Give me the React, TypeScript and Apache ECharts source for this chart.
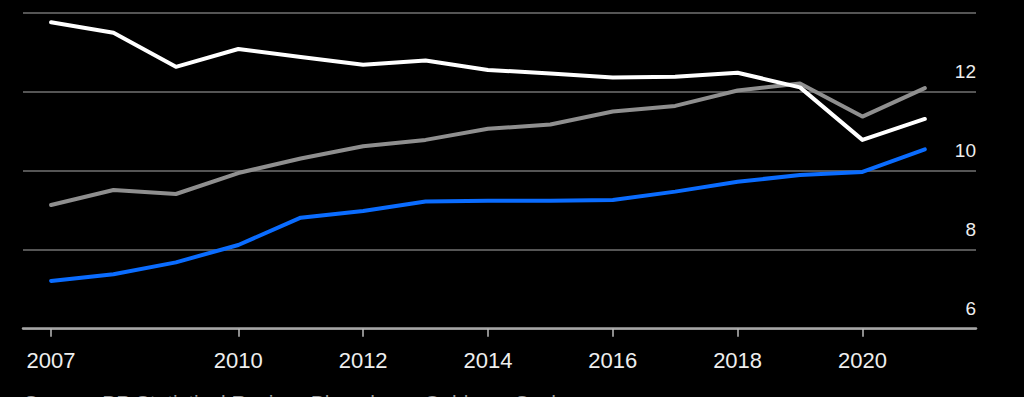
import React, { useEffect, useRef } from "react";
import * as echarts from "echarts";

const years = [2007, 2008, 2009, 2010, 2011, 2012, 2013, 2014, 2015, 2016, 2017, 2018, 2019, 2020, 2021];
const whiteSeries = [13.76, 13.49, 12.63, 13.08, 12.88, 12.68, 12.79, 12.55, 12.46, 12.36, 12.38, 12.48, 12.11, 10.78, 11.31];
const graySeries = [9.13, 9.51, 9.41, 9.94, 10.31, 10.62, 10.78, 11.06, 11.17, 11.50, 11.64, 12.03, 12.21, 11.37, 12.09];
const blueSeries = [7.21, 7.38, 7.68, 8.12, 8.81, 8.98, 9.22, 9.24, 9.24, 9.26, 9.47, 9.72, 9.89, 9.97, 10.54];
const xTickYears = [2007, 2010, 2012, 2014, 2016, 2018, 2020];
const yTickValues = [6, 8, 10, 12];
const sourceText = "Source: BP Statistical Review, Bloomberg, Goldman Sachs";

const FONT = "'Liberation Sans', Arial, sans-serif";

export default function App() {
  const ref = useRef<HTMLDivElement>(null);
  useEffect(() => {
    document.body.style.margin = "0";
    document.body.style.background = "#000";
    const chart = echarts.init(ref.current!, null, { renderer: "svg" });
    const mk = (data: number[], color: string) => ({
      type: "line",
      data: years.map((y, i) => [y, data[i]]),
      showSymbol: false,
      symbol: "none",
      lineStyle: { color, width: 4, join: "round", cap: "round" },
      z: 3,
    });
    chart.setOption({
      animation: false,
      backgroundColor: "#000",
      grid: { left: 23, right: 48, top: 12.7, bottom: 68.3, containLabel: false },
      xAxis: {
        type: "value",
        min: 2006.55,
        max: 2021.82,
        axisLine: { show: true, lineStyle: { color: "#a6a6a6", width: 2.5 } },
        axisTick: { show: true, customValues: xTickYears, length: 8, lineStyle: { color: "#bbbbbb", width: 1.5 } },
        axisLabel: {
          customValues: xTickYears,
          color: "#eeeeee",
          fontSize: 22,
          fontFamily: FONT,
          margin: 21,
          formatter: (v: number) => String(v),
        },
        splitLine: { show: false },
      },
      yAxis: {
        type: "value",
        position: "right",
        min: 6,
        max: 14,
        interval: 2,
        axisLine: { show: false },
        axisTick: { show: false },
        axisLabel: {
          customValues: yTickValues,
          inside: true,
          margin: 0,
          color: "#eeeeee",
          fontSize: 19,
          fontFamily: FONT,
          align: "right",
          verticalAlign: "bottom",
          padding: [0, 0, 11, 0],
        },
        splitLine: { show: true, lineStyle: { color: "#555555", width: 2 } },
      },
      graphic: [
        {
          type: "text",
          left: 24,
          top: 392,
          style: { text: sourceText, fill: "#9a9a9a", font: `21px ${FONT}` },
        },
      ],
      series: [mk(graySeries, "#8f8f8f"), mk(whiteSeries, "#ffffff"), mk(blueSeries, "#0a6cff")],
    });
    return () => chart.dispose();
  }, []);
  return <div ref={ref} style={{ width: 1024, height: 397, background: "#000" }} />;
}
